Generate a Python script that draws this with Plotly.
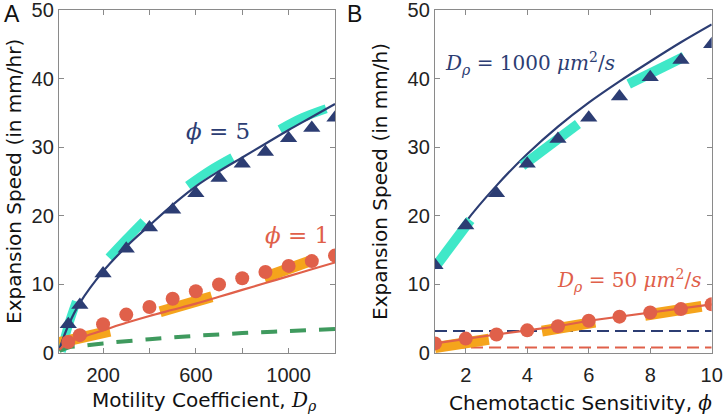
import plotly.graph_objects as go

# ---------------- Panel A data ----------------
a_x = [50, 100, 200, 300, 400, 500, 600, 700, 800, 900, 1000, 1100, 1200]
a_tri = [4.2, 7.0, 11.6, 15.2, 18.3, 20.9, 23.3, 25.5, 27.6, 29.3, 31.3, 32.8, 34.3]
a_circ = [1.6, 2.6, 4.2, 5.6, 6.7, 7.9, 9.0, 10.0, 10.9, 11.8, 12.7, 13.4, 14.2]

a_line_x = [12, 50, 100, 200, 300, 400, 500, 600, 700, 800, 900, 1000, 1100, 1200]
a_line5 = [0.6, 4.0, 7.3, 11.9, 15.5, 18.6, 21.6, 24.3, 26.5, 28.5, 30.5, 32.5, 34.4, 36.3]
a_line1 = [0.5, 1.5, 2.2, 3.3, 4.4, 5.4, 6.3, 7.2, 8.2, 9.2, 10.2, 11.2, 12.2, 13.2]
a_green_x = [12, 50, 100, 200, 400, 600, 800, 1000, 1200]
a_green = [0.3, 0.8, 1.0, 1.4, 2.0, 2.5, 2.9, 3.2, 3.5]

a_cyan_bands = [
    ([20, 50, 85], [0.2, 4.0, 7.5]),
    ([225, 300, 375], [13.9, 16.6, 19.2]),
    ([565, 660, 758], [24.4, 26.6, 28.5]),
    ([962, 1060, 1162], [32.6, 34.3, 35.6]),
]
a_orange_bands = [
    ([10, 230], [1.5, 3.2]),
    ([446, 669], [6.0, 8.2]),
    ([895, 1100], [11.0, 13.5]),
]

# ---------------- Panel B data ----------------
b_x = [1, 2, 3, 4, 5, 6, 7, 8, 9, 10]
b_tri = [12.8, 18.6, 23.3, 27.6, 31.2, 34.3, 37.4, 40.2, 42.7, 45.0]
b_circ = [1.4, 2.1, 2.7, 3.3, 3.9, 4.7, 5.3, 5.9, 6.4, 7.1]
b_line_navy = [12.3, 19.1, 24.4, 29.0, 33.0, 36.5, 39.6, 42.5, 45.3, 47.9]
b_dash_x = [1, 10]
b_dash_navy = [3.2, 3.2]
b_dash_red = [0.8, 0.8]

b_cyan_bands = [
    ([1.05, 2.15], [12.8, 19.4]),
    ([3.84, 5.65], [27.3, 33.4]),
    ([7.3, 9.1], [39.2, 43.2]),
]
b_orange_bands = [
    ([1.0, 2.75], [0.8, 2.0]),
    ([4.48, 6.21], [3.2, 4.5]),
    ([7.83, 9.67], [5.5, 6.8]),
]

NAVY = "#2c3d73"
RED = "#e0604a"
CYAN = "#3fe8c8"
ORANGE = "#f5a41c"
GREEN = "#3f9a5e"
GRAY = "#8a8a8a"
TICKFONT = "Liberation Sans"
FONT = "DejaVu Sans"
MATH = "DejaVu Serif"

fig = go.Figure()

def add(tr, panel):
    if panel == "B":
        tr.update(xaxis="x2", yaxis="y2")
    fig.add_trace(tr)

# Panel A
for bx, by in a_cyan_bands:
    add(go.Scatter(x=bx, y=by, mode="lines", line=dict(color=CYAN, width=9, shape="spline"), hoverinfo="skip"), "A")
for bx, by in a_orange_bands:
    add(go.Scatter(x=bx, y=by, mode="lines", line=dict(color=ORANGE, width=11), hoverinfo="skip"), "A")
add(go.Scatter(x=a_green_x, y=a_green, mode="lines", line=dict(color=GREEN, width=4, dash="16px,13px", shape="spline")), "A")
add(go.Scatter(x=a_line_x, y=a_line5, mode="lines", line=dict(color=NAVY, width=2.2, shape="spline")), "A")
add(go.Scatter(x=a_line_x, y=a_line1, mode="lines", line=dict(color=RED, width=2.2, shape="spline")), "A")
add(go.Scatter(x=a_x, y=a_tri, mode="markers", marker=dict(symbol="triangle-up", size=15, color=NAVY)), "A")
add(go.Scatter(x=a_x, y=a_circ, mode="markers", marker=dict(symbol="circle", size=14, color=RED)), "A")

# Panel B
add(go.Scatter(x=b_dash_x, y=b_dash_navy, mode="lines", line=dict(color=NAVY, width=2, dash="12px,6px")), "B")
add(go.Scatter(x=b_dash_x, y=b_dash_red, mode="lines", line=dict(color=RED, width=2, dash="12px,6px")), "B")
add(go.Scatter(x=b_x, y=b_line_navy, mode="lines", line=dict(color=NAVY, width=2.2, shape="spline")), "B")
for bx, by in b_cyan_bands:
    add(go.Scatter(x=bx, y=by, mode="lines", line=dict(color=CYAN, width=10), hoverinfo="skip"), "B")
for bx, by in b_orange_bands:
    add(go.Scatter(x=bx, y=by, mode="lines", line=dict(color=ORANGE, width=11), hoverinfo="skip"), "B")
add(go.Scatter(x=b_x, y=b_circ, mode="lines", line=dict(color=RED, width=2.2)), "B")
add(go.Scatter(x=b_x, y=b_tri, mode="markers", marker=dict(symbol="triangle-up", size=15, color=NAVY)), "B")
add(go.Scatter(x=b_x, y=b_circ, mode="markers", marker=dict(symbol="circle", size=14, color=RED)), "B")

W, H = 725, 418

def fx(px):
    return px / W

def fy(py):
    return 1 - py / H

ydom = [fy(353), fy(10)]
axis_common = dict(showline=True, linecolor=GRAY, linewidth=1.3, mirror="ticks",
                   ticks="inside", ticklen=5, tickcolor=GRAY, showgrid=False, zeroline=False,
                   ticklabeloverflow="allow", automargin=False,
                   tickfont=dict(family=TICKFONT, size=20, color="#222"))

fig.update_layout(
    width=W, height=H, margin=dict(l=0, r=0, t=0, b=0),
    paper_bgcolor="white", plot_bgcolor="white", showlegend=False,
    xaxis=dict(domain=[fx(59), fx(335)], range=[10, 1200], ticklabelstandoff=4,
               tickvals=[200, 400, 600, 800, 1000], ticktext=["200", " ", "600", " ", "1000"], **axis_common),
    yaxis=dict(domain=ydom, range=[0, 50], tickvals=[0, 10, 20, 30, 40, 50], **axis_common),
    xaxis2=dict(domain=[fx(435), fx(711.7)], range=[1, 10], anchor="y2", ticklabelstandoff=4,
                tickvals=[2, 4, 6, 8, 10], **axis_common),
    yaxis2=dict(domain=ydom, range=[0, 50], anchor="x2", tickvals=[0, 10, 20, 30, 40, 50], **axis_common),
)

def ann(text, x, y, size=20, color="#111", family=FONT, angle=0):
    fig.add_annotation(text=text, x=fx(x), y=fy(y), xref="paper", yref="paper",
                       showarrow=False, textangle=angle, xanchor="center", yanchor="middle",
                       font=dict(family=family, size=size, color=color))

ann("A", 12, 14, size=23, family=TICKFONT)
ann("B", 354, 14, size=23, family=TICKFONT)
ann("Expansion Speed (in mm/hr)", 14, 182, angle=-90)
ann("Expansion Speed (in mm/h)", 380, 182, angle=-90)
ann("Motility Coefficient, <i><span style='font-family:DejaVu Serif'>D<sub>ρ</sub></span></i>", 204, 401)
ann("Chemotactic Sensitivity, <i><span style='font-family:DejaVu Serif'>ϕ</span></i>", 580, 403)
ann("<i>ϕ</i> = 5", 218, 131, size=23, color=NAVY, family=MATH)
ann("<i>ϕ</i> = 1", 297, 235, size=23, color=RED, family=MATH)
ann("<i>D<sub>ρ</sub></i> = 1000 <i>μm</i><sup>2</sup>/<i>s</i>", 530, 63, size=20, color=NAVY, family=MATH)
ann("<i>D<sub>ρ</sub></i> = 50 <i>μm</i><sup>2</sup>/<i>s</i>", 629, 280, size=20, color=RED, family=MATH)

# remove the default page margin so the figure sits at the window's top-left corner
fig.write_html("out.html", config={"displayModeBar": False},
               post_script="document.body.style.margin='0';document.body.style.overflow='hidden';")
